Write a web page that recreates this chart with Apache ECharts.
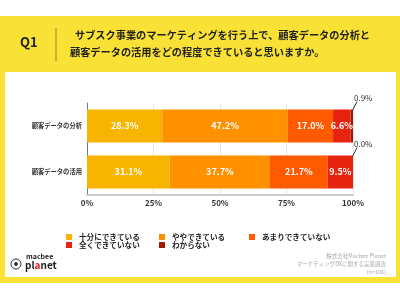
<!DOCTYPE html>
<html><head><meta charset="utf-8">
<script src="https://cdn.jsdelivr.net/npm/echarts@6/dist/echarts.min.js"></script>
<style>html,body{margin:0;padding:0;background:#fff}#c{width:400px;height:300px}</style>
</head><body><div id="c"></div>
<script>
const categories = ['顧客データの分析', '顧客データの活用'];
const seriesNames = ['十分にできている', 'ややできている', 'あまりできていない', '全くできていない', 'わからない'];
const values = [
  [28.3, 31.1],
  [47.2, 37.7],
  [17.0, 21.7],
  [6.6, 9.5],
  [0.9, 0.0]
];
const xTicks = [0, 25, 50, 75, 100];
const colors = ['#F7B500', '#FF9100', '#FF5A00', '#E5230F', '#A31A00'];
const FONT = '"Noto Sans CJK JP", "Noto Sans", sans-serif';
const BAR_W = 33;

const chart = echarts.init(document.getElementById('c'), null, {renderer: 'canvas'});
const lastIdx = seriesNames.length - 1;
const series = seriesNames.map((name, i) => ({
  name, type: 'bar', stack: 'total', barWidth: BAR_W,
  data: values[i],
  itemStyle: {color: colors[i]},
  label: {
    show: i !== lastIdx, position: 'inside', color: '#fff', fontSize: 9, fontWeight: 'bold', fontFamily: FONT,
    formatter: p => p.value.toFixed(1) + '%'
  }
}));
// outside callout labels for the last (small) segment
const calloutData = categories.map((c, ci) => {
  const total = values.reduce((s, arr) => s + arr[ci], 0);
  return [total, ci, values[lastIdx][ci]];
});
series.push({
  type: 'custom', name: '_callout', z: 20, clip: false,
  data: calloutData,
  encode: {x: 0, y: 1},
  renderItem: (params, api) => {
    const pt = api.coord([api.value(0), api.value(1)]);
    const x = pt[0], yTop = pt[1] - BAR_W / 2;
    return {type: 'group', children: [
      {type: 'line', z2: 50, shape: {x1: x - 0.5, y1: yTop + 1, x2: x + 4, y2: yTop - 8}, style: {stroke: '#333', lineWidth: 1}},
      {type: 'text', x: x + 1, y: yTop - 12, style: {text: api.value(2).toFixed(1) + '%', font: '8px ' + FONT, fill: '#333', textAlign: 'left', textVerticalAlign: 'middle'}}
    ]};
  }
});

const legendText = {fontSize: 7.6, fontWeight: 'bold', color: '#222', fontFamily: FONT, lineHeight: 8, padding: [0, 0, 0, 2]};
const mkLegend = (left, data) => ({
  left, top: 231, orient: 'vertical', itemWidth: 6, itemHeight: 6, itemGap: 0, padding: 2,
  icon: 'rect', data, textStyle: legendText, selectedMode: false
});

chart.setOption({
  animation: false,
  color: colors,
  grid: {left: 87, right: 47, top: 103, bottom: 105},
  xAxis: {
    type: 'value', min: 0, max: 100, interval: 25,
    axisLabel: {formatter: v => xTicks.includes(v) ? v + '%' : '', fontSize: 8, fontWeight: 'bold', color: '#333', fontFamily: FONT, margin: 4},
    axisLine: {show: true, lineStyle: {color: '#ccc', width: 2}},
    splitLine: {show: true, lineStyle: {color: '#e6e6e6', width: 1}},
    axisTick: {show: false}
  },
  yAxis: {
    type: 'category', data: categories, inverse: true,
    axisLine: {show: true, lineStyle: {color: '#777', width: 1}},
    axisTick: {show: false},
    axisLabel: {fontSize: 6.3, fontWeight: 'bold', color: '#333', fontFamily: FONT, margin: 5}
  },
  legend: [
    mkLegend(64, [seriesNames[0], seriesNames[3]]),
    mkLegend(157, [seriesNames[1], seriesNames[4]]),
    mkLegend(247, [seriesNames[2]])
  ],
  graphic: [
    {type: 'rect', z: -10, shape: {x: 0, y: 16, width: 400, height: 267}, style: {fill: '#F9E135'}},
    {type: 'rect', z: -9, shape: {x: 5, y: 72, width: 391, height: 205}, style: {fill: '#fff'}},
    {type: 'line', shape: {x1: 56, y1: 28, x2: 56, y2: 61}, style: {stroke: '#9a8a20', lineWidth: 1}},
    {type: 'text', left: 20, top: 36, style: {text: 'Q1', font: 'bold 13px ' + FONT, fill: '#222'}},
    {type: 'text', left: 75, top: 30, style: {text: 'サブスク事業のマーケティングを行う上で、顧客データの分析と', font: 'bold 10.2px ' + FONT, fill: '#222'}},
    {type: 'text', left: 70, top: 47, style: {text: '顧客データの活用をどの程度できていると思いますか。', font: 'bold 10.2px ' + FONT, fill: '#222'}},
    {type: 'text', left: 26, top: 253, style: {text: 'macbee', font: 'bold 7px ' + FONT, fill: '#222'}},
    {type: 'text', left: 25, top: 260, style: {rich: {a: {font: 'bold 10px ' + FONT, fill: '#222'}, r: {font: 'bold 10px ' + FONT, fill: '#d8262b'}}, text: '{a|pl}{r|a}{a|net}'}},
    {type: 'circle', shape: {cx: 16, cy: 264, r: 5}, style: {fill: 'none', stroke: '#333', lineWidth: 1}},
    {type: 'circle', shape: {cx: 16, cy: 264, r: 2}, style: {fill: '#333'}},
    {type: 'text', right: 14, top: 253, style: {text: '株式会社Macbee Planet', font: '5.5px ' + FONT, fill: '#aaa', align: 'right'}},
    {type: 'text', right: 14, top: 261, style: {text: 'マーケティングDXに関する実態調査', font: '5.5px ' + FONT, fill: '#aaa', align: 'right'}},
    {type: 'text', right: 14, top: 269, style: {text: '(n=106)', font: '5.5px ' + FONT, fill: '#aaa', align: 'right'}}
  ],
  series
});
</script></body></html>
